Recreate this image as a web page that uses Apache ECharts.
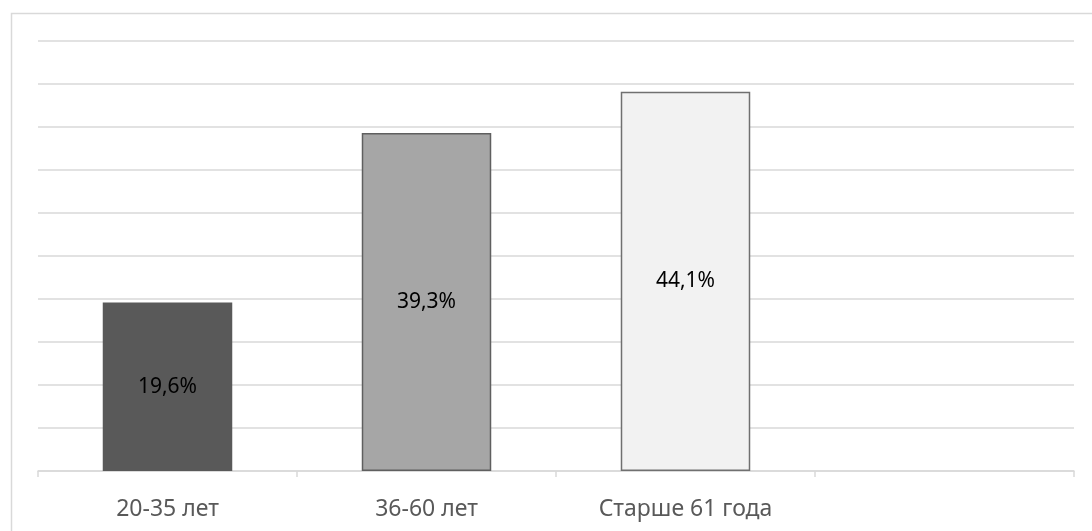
<!DOCTYPE html>
<html>
<head>
<meta charset="utf-8">
<script src="https://cdn.jsdelivr.net/npm/echarts@6/dist/echarts.min.js"></script>
<style>
  html, body { margin: 0; padding: 0; background: #fff; }
  #chart { width: 1092px; height: 531px; }
</style>
</head>
<body>
<div id="chart"></div>
<script>
// Age groups and their shares, percent
const categories = ['20-35 лет', '36-60 лет', 'Старше 61 года', ''];
const shares = [19.6, 39.3, 44.1, null];
const fills = ['#595959', '#a6a6a6', '#f2f2f2', '#ffffff'];
const strokes = ['#595959', '#5f5f5f', '#707070', '#ffffff'];

const chart = echarts.init(document.getElementById('chart'));

const font = '"Noto Sans", "Open Sans", sans-serif';

chart.setOption({
  animation: false,
  graphic: [{
    type: 'rect',
    left: 9, top: 11,
    shape: { width: 1200, height: 700 },
    style: { fill: 'none', stroke: '#d9d9d9', lineWidth: 1.5 },
    silent: true
  }],
  grid: { left: 38, right: 18, top: 41, bottom: 60 },
  xAxis: {
    type: 'category',
    data: categories,
    boundaryGap: true,
    axisLine: { lineStyle: { color: '#d9d9d9', width: 1.5 } },
    axisTick: { show: true, length: 6, lineStyle: { color: '#d9d9d9', width: 1.5 } },
    axisLabel: { color: '#595959', fontSize: 23, fontFamily: font, margin: 27 }
  },
  yAxis: {
    type: 'value',
    min: 0, max: 50, interval: 5,
    axisLabel: { show: false },
    axisLine: { show: false },
    axisTick: { show: false },
    splitLine: { lineStyle: { color: '#d9d9d9', width: 1.5 } }
  },
  series: [{
    type: 'bar',
    barWidth: '50%',
    data: shares.map((v, i) => ({
      value: v,
      itemStyle: { color: fills[i], borderColor: strokes[i], borderWidth: i === 0 ? 0 : 1.5 }
    })),
    label: {
      show: true,
      position: 'inside',
      color: '#000000',
      fontSize: 21,
      fontFamily: font,
      formatter: p => p.value == null ? '' : String(p.value).replace('.', ',') + '%'
    }
  }]
});
</script>
</body>
</html>
